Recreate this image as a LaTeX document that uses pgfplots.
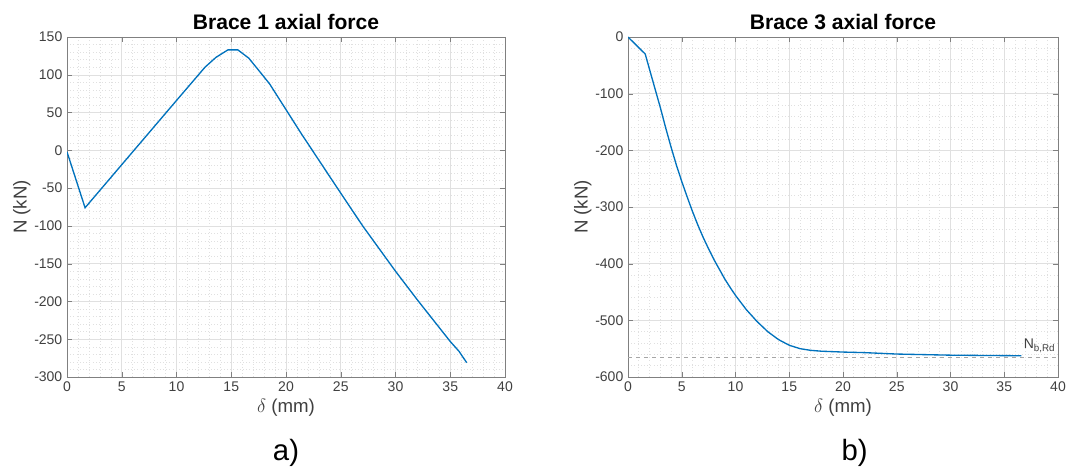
\documentclass[border=0pt]{standalone}
\usepackage{fontspec}
\setmainfont{Liberation Sans}
\usepackage{pgfplots}
\pgfplotsset{compat=1.18}
\definecolor{mblue}{HTML}{0072BD}
\definecolor{tickgray}{HTML}{404040}
\definecolor{axgray}{HTML}{808080}
\pgfplotsset{
  mstyle/.style={
    scale only axis,
    width=328.5pt, height=255pt,
    axis line style={axgray},
    tick style={axgray},
    tick align=inside,
    xtick pos=both, ytick pos=both,
    major tick length=4pt, minor tick length=0pt,
    grid=both,
    major grid style={color=black!12, line width=0.4pt},
    minor grid style={color=black!12, dotted, line width=0.4pt},
    ticklabel style={font=\fontsize{10.5}{12}\selectfont, color=tickgray},
    /pgf/number format/assume math mode=true,
    label style={font=\fontsize{14}{16}\selectfont, color=tickgray},
    title style={font=\fontsize{15.8}{18}\selectfont\bfseries, color=black, yshift=-4pt},
    xmin=0, xmax=40, xtick={0,5,...,40}, minor x tick num=4,
    xlabel={$\delta$ (mm)},
    ylabel={N (kN)},
    xlabel style={yshift=1pt},
    ylabel style={yshift=-4pt},
  }
}
\begin{document}
\begin{tikzpicture}
\useasboundingbox (0,0) rectangle (804.75pt,-352.5pt);
\begin{axis}[mstyle, anchor=north west, at={(50.25pt,-27.75pt)},
  title={Brace 1 axial force},
  ymin=-300, ymax=150, ytick={-300,-250,...,150}, minor y tick num=4]
\addplot[mblue, line width=1pt] coordinates {
(0,-2) (1.65,-76) (5,-19) (10,66) (12.6,110) (13.6,123) (14.7,133) (15.6,133) (16.6,122) (17.5,106) (18.5,88) (21.4,22) (24.6,-48) (27,-100) (30,-160) (32,-198) (35,-253) (35.8,-266) (36.5,-281)
};
\end{axis}
\begin{axis}[mstyle, anchor=north west, at={(471pt,-27.75pt)}, width=322.5pt,
  title={Brace 3 axial force},
  ymin=-600, ymax=0, ytick={-600,-500,...,0}, minor y tick num=4]
\addplot[black!35, dashed, line width=0.6pt, forget plot] coordinates {(0,-565) (40,-565)};
\addplot[mblue, line width=1pt] coordinates {
(0,0) (1.6,-30) (2,-57) (2.67,-102) (3,-124) (3.5,-160) (4,-194) (4.5,-226) (5,-255) (5.5,-282) (6,-308) (6.5,-332) (7,-354) (7.5,-374) (8,-393) (8.5,-410) (9,-427) (9.5,-442) (10,-456) (11,-481) (12,-502) (13,-520) (14,-534) (15,-544) (16,-550) (17,-553) (18,-554.5) (20,-556) (22,-557) (25,-559.5) (30,-561.5) (33,-562) (36.6,-562.5)
};
\node[anchor=south west, font=\fontsize{10.5}{12}\selectfont, color=tickgray, inner sep=0pt] at (axis cs:36.8,-557) {N\textsubscript{b,Rd}};
\end{axis}
\node[font=\fontsize{22}{24}\selectfont] at (214.5pt,-340pt) {a)};
\node[font=\fontsize{22}{24}\selectfont] at (641pt,-340pt) {b)};
\end{tikzpicture}
\end{document}
